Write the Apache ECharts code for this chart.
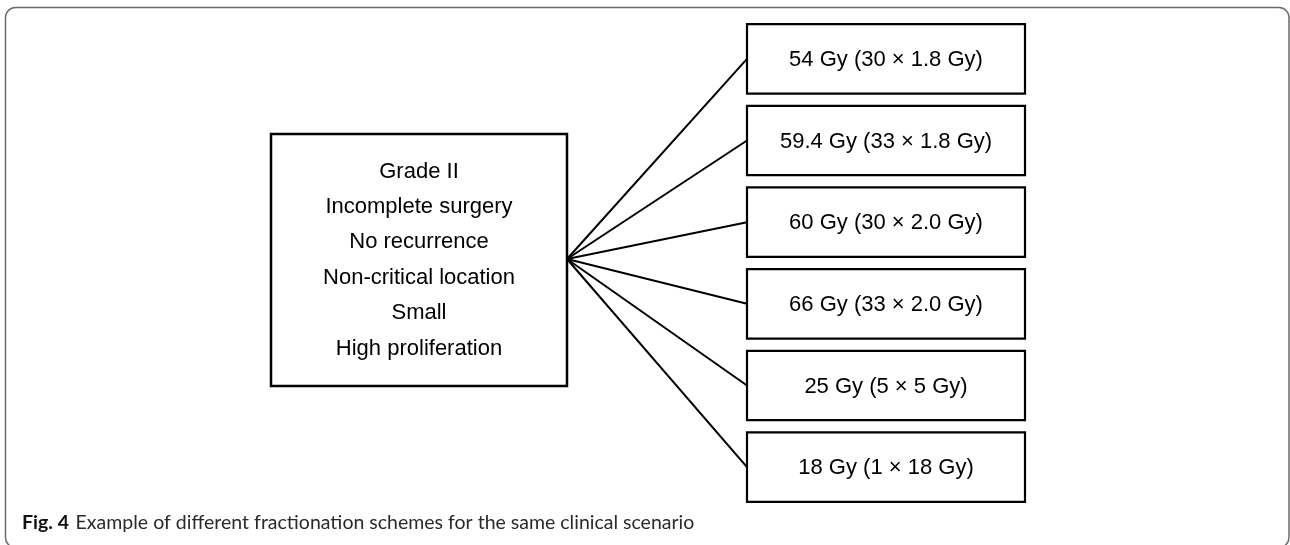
<!DOCTYPE html>
<html>
<head>
<meta charset="utf-8">
<script src="https://cdn.jsdelivr.net/npm/echarts@6/dist/echarts.min.js"></script>
<style>
  html, body { margin: 0; padding: 0; background: #fff; }
  #chart { width: 1290px; height: 545px; }
</style>
</head>
<body>
<div id="chart"></div>
<script>
// clinical scenario (left box)
const factors = [
    'Grade II',
    'Incomplete surgery',
    'No recurrence',
    'Non-critical location',
    'Small',
    'High proliferation'
];
// fractionation schemes (right boxes)
const schemes = [
    '54 Gy (30 × 1.8 Gy)',
    '59.4 Gy (33 × 1.8 Gy)',
    '60 Gy (30 × 2.0 Gy)',
    '66 Gy (33 × 2.0 Gy)',
    '25 Gy (5 × 5 Gy)',
    '18 Gy (1 × 18 Gy)'
];
const captionLabel = 'Fig. 4';
const captionText = 'Example of different fractionation schemes for the same clinical scenario';

const FONT = '"Liberation Sans", Arial, sans-serif';
const BOX_LEFT = 747;
const BOX_RIGHT = 1025;
// scenario box in axis units (x) / pixels (y)
const scen = { x0: 271, x1: 567, y0: 134, y1: 386 };

const chart = echarts.init(document.getElementById('chart'));

const option = {
    backgroundColor: '#ffffff',
    animation: false,
    grid: { left: 0, right: 0, top: 18, height: 490 },
    xAxis: { type: 'value', min: 0, max: 1290, show: false },
    yAxis: { type: 'category', data: schemes, inverse: true, show: false },
    graphic: [
        {
            type: 'rect',
            shape: { x: 5.5, y: 7.5, width: 1283.5, height: 540, r: 10 },
            style: { fill: 'none', stroke: '#6b6b6b', lineWidth: 1.5 },
            z: 0
        },
        {
            type: 'text',
            left: 22,
            top: 513,
            style: {
                text: '{b|' + captionLabel + '}  {n|' + captionText + '}',
                rich: {
                    b: { fontFamily: 'Lato, "Open Sans", sans-serif', fontWeight: 'bold', fontSize: 19.5, fill: '#111' },
                    n: { fontFamily: 'Lato, "Open Sans", sans-serif', fontSize: 19.5, fill: '#2a2a2a' }
                }
            }
        }
    ],
    series: [
        {
            // fan lines from scenario to each scheme
            type: 'custom',
            name: 'links',
            data: schemes.map((s, i) => [BOX_LEFT, i]),
            renderItem: (params, api) => {
                const end = api.coord([api.value(0), api.value(1)]);
                const start = api.coord([scen.x1, 0]);
                return {
                    type: 'line',
                    shape: { x1: start[0], y1: (scen.y0 + scen.y1) / 2 - 1, x2: end[0], y2: end[1] },
                    style: { stroke: '#000', lineWidth: 2 }
                };
            }
        },
        {
            // scheme boxes
            type: 'custom',
            name: 'schemes',
            data: schemes.map((s, i) => [BOX_LEFT, i]),
            renderItem: (params, api) => {
                const p = api.coord([api.value(0), api.value(1)]);
                const right = api.coord([BOX_RIGHT, 0])[0];
                const h = api.size([0, 1])[1] * 0.85;
                return {
                    type: 'group',
                    children: [
                        {
                            type: 'rect',
                            shape: { x: p[0], y: p[1] - h / 2, width: right - p[0], height: h },
                            style: { fill: '#fff', stroke: '#000', lineWidth: 2.2 }
                        },
                        {
                            type: 'text',
                            style: {
                                text: schemes[params.dataIndex],
                                x: (p[0] + right) / 2,
                                y: p[1] + 1,
                                align: 'center',
                                verticalAlign: 'middle',
                                fontFamily: FONT,
                                fontSize: 22,
                                fill: '#000'
                            }
                        }
                    ]
                };
            }
        },
        {
            // scenario box
            type: 'custom',
            name: 'scenario',
            data: [[scen.x0, 0]],
            renderItem: (params, api) => {
                const x0 = api.coord([scen.x0, 0])[0];
                const x1 = api.coord([scen.x1, 0])[0];
                return {
                    type: 'group',
                    children: [
                        {
                            type: 'rect',
                            shape: { x: x0, y: scen.y0, width: x1 - x0, height: scen.y1 - scen.y0 },
                            style: { fill: '#fff', stroke: '#000', lineWidth: 2.5 }
                        },
                        {
                            type: 'text',
                            style: {
                                text: factors.join('\n'),
                                x: (x0 + x1) / 2,
                                y: (scen.y0 + scen.y1) / 2,
                                align: 'center',
                                verticalAlign: 'middle',
                                lineHeight: 35.4,
                                fontFamily: FONT,
                                fontSize: 22,
                                fill: '#000'
                            }
                        }
                    ]
                };
            }
        }
    ]
};

chart.setOption(option);
</script>
</body>
</html>
